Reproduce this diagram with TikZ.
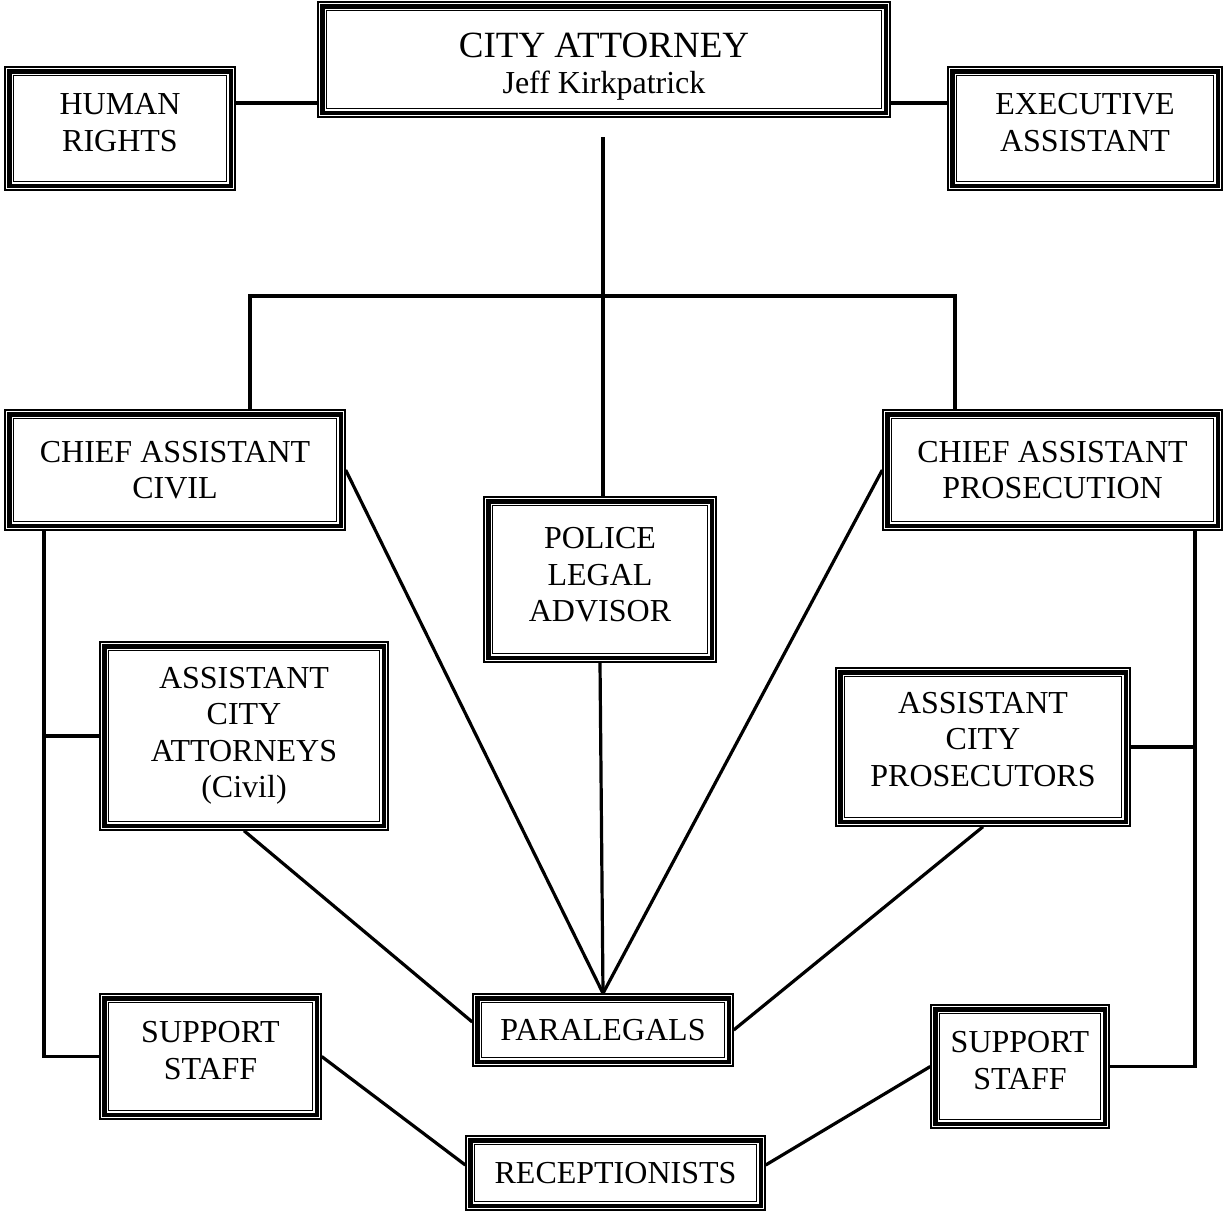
\documentclass[tikz,border=0pt]{standalone}
\usepackage{fontspec}
\setmainfont{Liberation Serif}
\usetikzlibrary{positioning}
\tikzstyle{office} = [
  rectangle,
  draw=black,
  line width=1.4pt,
  text centered,
  align=center,
  inner sep=0,
  font=\fontsize{32}{36.5}\selectfont
]
\tikzstyle{link} = [
  line width=3.2pt
]
% extra depth on the last line, to lift the text a little
\newcommand{\vlift}[1]{\rule[-#1]{0pt}{#1}}

\begin{document}
\begin{tikzpicture}[x=1pt, y=-1pt]

    \useasboundingbox (0,0) rectangle (1225,1210);

    \node (ca) [office, minimum width=572pt, minimum height=115pt] at (604,59.5) {\rule{0pt}{39pt}{\fontsize{37}{37}\selectfont CITY ATTORNEY}\\Jeff Kirkpatrick};
    \node (hr) [office, minimum width=230pt, minimum height=123pt] at (120,128.5) {HUMAN\\RIGHTS\vlift{12pt}};
    \node (ea) [office, minimum width=274pt, minimum height=123pt] at (1085,128.5) {EXECUTIVE\\ASSISTANT\vlift{12pt}};
    \node (cac) [office, minimum width=340pt, minimum height=120pt] at (175,470) {CHIEF ASSISTANT\\CIVIL};
    \node (cap) [office, minimum width=339pt, minimum height=120pt] at (1052.5,470) {CHIEF ASSISTANT\\PROSECUTION};
    \node (pla) [office, minimum width=232pt, minimum height=165pt] at (600,579.5) {POLICE\\LEGAL\\ADVISOR\vlift{10pt}};
    \node (aca) [office, minimum width=288pt, minimum height=188pt] at (244,736) {ASSISTANT\\CITY\\ATTORNEYS\\(Civil)};
    \node (acp) [office, minimum width=294pt, minimum height=158pt] at (983,747) {ASSISTANT\\CITY\\PROSECUTORS\vlift{16pt}};
    \node (para) [office, minimum width=260pt, minimum height=72pt] at (603,1030) {PARALEGALS};
    \node (ssl) [office, minimum width=221pt, minimum height=125pt] at (210.5,1056.5) {SUPPORT\\STAFF\vlift{12pt}};
    \node (ssr) [office, minimum width=178pt, minimum height=123pt] at (1020,1066.5) {SUPPORT\\STAFF\vlift{12pt}};
    \node (rec) [office, minimum width=299pt, minimum height=74pt] at (615.5,1173) {RECEPTIONISTS};

    % inner frames of every box
    \foreach \n in {ca,hr,ea,cac,cap,pla,aca,acp,para,ssl,ssr,rec} {
      \draw [line width=4.4pt] ([shift={(5pt,-5pt)}]\n.north west) rectangle ([shift={(-5pt,5pt)}]\n.south east);
      \draw [line width=1.4pt] ([shift={(9.4pt,-9.4pt)}]\n.north west) rectangle ([shift={(-9.4pt,9.4pt)}]\n.south east);
    }

    \coordinate (ctop) at (603,137);
    \coordinate (barl) at (250,296);
    \coordinate (barr) at (955,296);
    \coordinate (lbus) at (44,0);
    \coordinate (rbus) at (1195,0);

    \draw [link] (hr.east |- 0,103) -- (ca.west |- 0,103);
    \draw [link] (ca.east |- 0,103) -- (ea.west |- 0,103);
    \draw [link] (ctop) -- (ctop |- pla.north);
    \draw [link] (barl |- cac.north) -- (barl) -- (barr) -- (barr |- cap.north);

    \draw [link] (cac.south -| lbus) |- (ssl.west);
    \draw [link] (aca.west) -- (aca.west -| lbus);
    \draw [link] (cap.south -| rbus) |- (ssr.east);
    \draw [link] (acp.east) -- (acp.east -| rbus);

    \draw [link] (cac.east) -- (para.north);
    \draw [link] (pla.south) -- (para.north);
    \draw [link] (cap.west) -- (para.north);
    \draw [link] (aca.south) -- ([yshift=8pt]para.west);
    \draw [link] (acp.south) -- (para.east);
    \draw [link] (ssl.east) -- ([yshift=8pt]rec.west);
    \draw [link] (ssr.west) -- ([yshift=8pt]rec.east);

  \end{tikzpicture}
\end{document}
